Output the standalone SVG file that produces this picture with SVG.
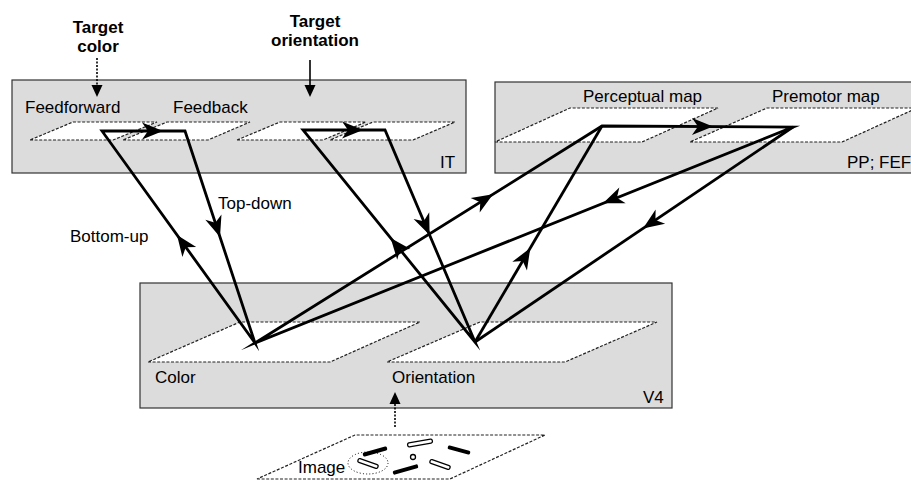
<svg xmlns="http://www.w3.org/2000/svg" width="911" height="480" viewBox="0 0 911 480">
<style>
.box{fill:#dcdcdc;stroke:#333;stroke-width:1.2}
.plane{fill:#fff;stroke:#222;stroke-width:1.2;stroke-dasharray:3 1.6}
.t{font-family:"Liberation Sans",Arial,sans-serif;font-size:17px;fill:#000}
.b{font-weight:bold}
.thick{fill:none;stroke:#000;stroke-width:2.8;stroke-linejoin:miter;stroke-miterlimit:12}
.small{fill:none;stroke:#000;stroke-width:1.6}
.dot{stroke-dasharray:2 1.5}
.bar{fill:#000}
.hbar{fill:#fff;stroke:#000;stroke-width:1.3}
</style>
<defs>
<path id="head" d="M0,0 L-21,-8.5 L-15,0 L-21,8.5 Z" fill="#000"/>
<path id="shead" d="M0,0 L-12,-5.5 L-12,5.5 Z" fill="#000"/>
</defs>
<rect width="911" height="480" fill="#fff"/>

<g id="IT">
<rect class="box" x="12" y="80" width="454" height="93"/>
<polygon class="plane" points="30,140 113,140 157,122 73,122"/>
<polygon class="plane" points="123,140 208,140 250,122 167,122"/>
<polygon class="plane" points="237,140 323,140 366,122 280,122"/>
<polygon class="plane" points="330,140 413,140 455,122 373,122"/>
<text class="t" x="25" y="113">Feedforward</text>
<text class="t" x="173" y="113">Feedback</text>
<text class="t" x="440" y="168">IT</text>
</g>

<g id="PP-FEF">
<rect class="box" x="495" y="82" width="430" height="91"/>
<polygon class="plane" points="495,142 642,142 718,108 570,108"/>
<polygon class="plane" points="690,142 842,142 917,108 767,108"/>
<text class="t" x="583" y="102">Perceptual map</text>
<text class="t" x="772" y="102">Premotor map</text>
<text class="t" x="847" y="168">PP; FEF</text>
</g>

<g id="V4">
<rect class="box" x="140" y="283" width="532" height="125"/>
<polygon class="plane" points="148,362 330,362 420,322 240,322"/>
<polygon class="plane" points="387,362 565,362 657,322 480,322"/>
<text class="t" x="155" y="383">Color</text>
<text class="t" x="392" y="383">Orientation</text>
<text class="t" x="643" y="403">V4</text>
</g>

<g id="target-color">
<text class="t b" x="98" y="33" text-anchor="middle">Target</text>
<text class="t b" x="98" y="52" text-anchor="middle">color</text>
<path class="small dot" d="M97,58 L97,88"/>
<use href="#shead" transform="translate(97,97) rotate(90)"/>
</g>
<g id="target-orientation">
<text class="t b" x="315" y="27" text-anchor="middle">Target</text>
<text class="t b" x="315" y="46" text-anchor="middle">orientation</text>
<path class="small" d="M310,60 L310,88"/>
<use href="#shead" transform="translate(310,97) rotate(90)"/>
</g>

<g id="image">
<polygon class="plane" points="257,479 450,479 545,435 355,435"/>
<rect class="bar" x="-12.5" y="-2" width="25" height="4" rx="1.5" transform="translate(375,451.5) rotate(-16)"/>
<rect class="hbar" x="-12.5" y="-2" width="25" height="4" rx="1.5" transform="translate(420,443) rotate(-10)"/>
<rect class="bar" x="-11.5" y="-2" width="23" height="4" rx="1.5" transform="translate(459,450) rotate(15)"/>
<circle class="hbar" cx="413" cy="457" r="2.5"/>
<rect class="hbar" x="-10.5" y="-2" width="21" height="4" rx="1.5" transform="translate(368,463.5) rotate(19)"/>
<rect class="bar" x="-13" y="-2" width="26" height="4" rx="1.5" transform="translate(405.5,469.5) rotate(-16)"/>
<rect class="hbar" x="-10.5" y="-2" width="21" height="4" rx="1.5" transform="translate(440,464.5) rotate(19)"/>
<ellipse cx="368" cy="463" rx="20" ry="11" fill="none" stroke="#000" stroke-width="1" stroke-dasharray="1 2.2"/>
<text class="t" x="298" y="473">Image</text>
<path class="small dot" d="M395,427 L395,401"/>
<use href="#shead" transform="translate(395,392) rotate(-90)"/>
</g>

<g id="connectors">
<polygon class="thick" points="255,343 102,131 185,131"/>
<polygon class="thick" points="475,342 303,130 385,130"/>
<polygon class="thick" points="255,343 602,126 793,127"/>
<polyline class="thick" points="475,342 602,126"/>
<polyline class="thick" points="793,127 475,342"/>
<use href="#head" transform="translate(177,235) rotate(-125.8)"/>
<use href="#head" transform="translate(220,237) rotate(71.7)"/>
<use href="#head" transform="translate(163,131)"/>
<use href="#head" transform="translate(390.6,238) rotate(-129)"/>
<use href="#head" transform="translate(429.6,235) rotate(67)"/>
<use href="#head" transform="translate(363,130)"/>
<use href="#head" transform="translate(493,194.2) rotate(-32)"/>
<use href="#head" transform="translate(713,126.6) rotate(0.3)"/>
<use href="#head" transform="translate(603,203.3) rotate(158.1)"/>
<use href="#head" transform="translate(530.3,248) rotate(-59.5)"/>
<use href="#head" transform="translate(643,228.4) rotate(145.9)"/>
</g>
<text class="t" x="218" y="209">Top-down</text>
<text class="t" x="70" y="242">Bottom-up</text>
</svg>
